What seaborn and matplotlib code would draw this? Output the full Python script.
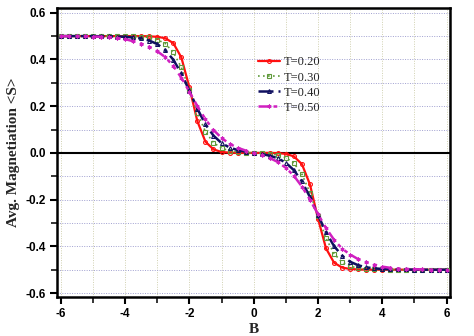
import numpy as np
import pandas as pd
import matplotlib
matplotlib.use("Agg")
import matplotlib.pyplot as plt
import seaborn as sns
from matplotlib.ticker import MultipleLocator, FormatStrFormatter

B = [-6.0, -5.75, -5.5, -5.25, -5.0, -4.75, -4.5, -4.25, -4.0, -3.75, -3.5, -3.25,
     -3.0, -2.75, -2.5, -2.25, -2.0, -1.75, -1.5, -1.25, -1.0, -0.75, -0.5, -0.25,
     0.0, 0.25, 0.5, 0.75, 1.0, 1.25, 1.5, 1.75, 2.0, 2.25, 2.5, 2.75, 3.0, 3.25,
     3.5, 3.75, 4.0, 4.25, 4.5, 4.75, 5.0, 5.25, 5.5, 5.75, 6.0]

m_T020 = [0.500, 0.500, 0.500, 0.500, 0.500, 0.500, 0.500, 0.500, 0.500, 0.500, 0.500, 0.499,
          0.497, 0.491, 0.470, 0.409, 0.281, 0.135, 0.048, 0.015, 0.004, 0.001, 0.000, 0.000,
          0.000, -0.000, -0.000, -0.001, -0.004, -0.015, -0.048, -0.135, -0.281, -0.409, -0.470, -0.491,
          -0.497, -0.499, -0.500, -0.500, -0.500, -0.500, -0.500, -0.500, -0.500, -0.500, -0.500, -0.500, -0.500]

m_T030 = [0.500, 0.500, 0.500, 0.500, 0.500, 0.500, 0.500, 0.500, 0.499, 0.499, 0.497, 0.494,
          0.485, 0.468, 0.431, 0.366, 0.271, 0.170, 0.091, 0.044, 0.020, 0.009, 0.004, 0.001,
          0.000, -0.001, -0.004, -0.009, -0.020, -0.044, -0.091, -0.170, -0.271, -0.366, -0.431, -0.468,
          -0.485, -0.494, -0.497, -0.499, -0.499, -0.500, -0.500, -0.500, -0.500, -0.500, -0.500, -0.500, -0.500]

m_T040 = [0.500, 0.500, 0.500, 0.500, 0.500, 0.499, 0.499, 0.498, 0.497, 0.494, 0.490, 0.481,
          0.466, 0.440, 0.399, 0.340, 0.266, 0.189, 0.122, 0.074, 0.042, 0.023, 0.012, 0.005,
          0.000, -0.005, -0.012, -0.023, -0.042, -0.074, -0.122, -0.189, -0.266, -0.340, -0.399, -0.440,
          -0.466, -0.481, -0.490, -0.494, -0.497, -0.498, -0.499, -0.499, -0.500, -0.500, -0.500, -0.500, -0.500]

m_T050 = [0.500, 0.500, 0.500, 0.499, 0.498, 0.497, 0.495, 0.492, 0.487, 0.478, 0.468, 0.455,
          0.435, 0.410, 0.372, 0.322, 0.262, 0.200, 0.144, 0.098, 0.064, 0.039, 0.022, 0.010,
          0.000, -0.010, -0.022, -0.039, -0.064, -0.098, -0.144, -0.200, -0.262, -0.322, -0.372, -0.410,
          -0.435, -0.455, -0.468, -0.478, -0.487, -0.492, -0.495, -0.497, -0.498, -0.499, -0.500, -0.500, -0.500]

labels = ["T=0.20", "T=0.30", "T=0.40", "T=0.50"]
series = [m_T020, m_T030, m_T040, m_T050]

colors = ["#ff1010", "#5f9a3a", "#101060", "#d020c0"]
markers = ["o", "s", "^", (6, 2, 0)]
linestyles = ["-", (0, (1, 2)), (0, (6, 2, 1.5, 2)), (0, (4, 2, 1.5, 2, 1.5, 2))]
linewidths = [1.6, 1.2, 1.8, 1.8]

sns.set_style("white")
plt.rcParams["font.family"] = ["Liberation Sans", "DejaVu Sans"]
plt.rcParams["axes.unicode_minus"] = False

fig = plt.figure(figsize=(4.74, 3.36), dpi=100)
ax = fig.add_axes([0.120, 0.116, 0.829, 0.860])

ax.set_xlim(-6.12, 6.1)
ax.set_ylim(-0.617, 0.62)
ax.xaxis.set_major_locator(MultipleLocator(2))
ax.xaxis.set_minor_locator(MultipleLocator(1))
ax.yaxis.set_major_locator(MultipleLocator(0.2))
ax.yaxis.set_minor_locator(MultipleLocator(0.1))
ax.grid(True, which="both", axis="y", color="#a0a0d0", linestyle=(0, (1, 1.5)), linewidth=0.7)
ax.grid(True, which="both", axis="x", color="#d0d0b0", linestyle=(0, (1, 1.5)), linewidth=0.7)
ax.set_axisbelow(True)

ax.axhline(0.0, color="black", linewidth=1.5, zorder=2)

for lab, vals, c, mk, ls, lw in zip(labels, series, colors, markers, linestyles, linewidths):
    df = pd.DataFrame({"B": B, "M": vals})
    sns.lineplot(data=df, x="B", y="M", ax=ax, color=c, linestyle=ls, linewidth=lw,
                 marker=mk, markersize=2.8, markerfacecolor="none",
                 markeredgecolor=c, markeredgewidth=0.8, label=lab, zorder=3)

for sp in ax.spines.values():
    sp.set_linewidth(1.8)
    sp.set_color("black")

ax.tick_params(axis="both", which="major", direction="out", length=5, width=1.5,
               labelsize=8.5, pad=3, bottom=True, left=True, colors="black")
ax.tick_params(axis="both", which="minor", direction="out", length=4, width=1.3,
               bottom=True, left=True)
ax.yaxis.set_major_formatter(FormatStrFormatter("%.1f"))
ax.xaxis.set_major_formatter(FormatStrFormatter("%d"))
for t in ax.get_xticklabels() + ax.get_yticklabels():
    t.set_fontweight("bold")

ax.set_xlabel("B", fontsize=11, fontweight="bold", family="Liberation Serif", labelpad=2)
ax.set_ylabel("Avg. Magnetiation <S>", fontsize=11, fontweight="bold",
              family="Liberation Serif", labelpad=4)

leg = ax.legend(loc="upper left", bbox_to_anchor=(0.50, 0.85), frameon=False,
                prop={"family": "Liberation Serif", "size": 9},
                handlelength=1.7, handletextpad=0.3, labelspacing=0.25,
                borderaxespad=0.0)

fig.savefig("out.png", dpi=100)
